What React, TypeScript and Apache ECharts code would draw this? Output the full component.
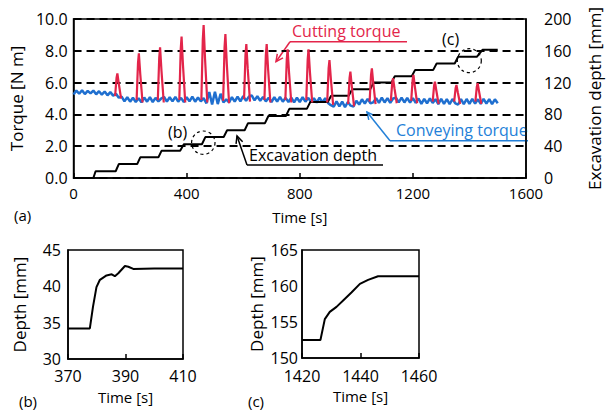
import React, { useEffect, useRef } from "react";
import * as echarts from "echarts";

const FONT = "Open Sans";

// Main panel (a)
const timeTicks = [0, 400, 800, 1200, 1600];
const conveyingStart = 0;
const conveyingStep = 10;
const conveyingTorque = [
  5.25, 5.50, 5.30, 5.52, 5.28, 5.48, 5.32, 5.50, 5.26, 5.46,
  5.24, 5.44, 5.20, 5.40, 5.18, 5.30, 5.05, 5.12, 4.82, 5.08,
  4.80, 5.05, 4.78, 5.02, 4.76, 5.06, 4.80, 5.08, 4.78, 5.04,
  4.82, 5.00, 5.10, 4.80, 5.08, 4.82, 5.10, 4.80, 5.04, 4.78,
  5.08, 4.82, 5.12, 4.80, 5.06, 4.82, 5.02, 4.70, 5.40, 4.62,
  5.42, 4.65, 5.30, 4.75, 4.95, 4.76, 5.08, 4.80, 5.12, 4.82,
  5.15, 4.85, 5.12, 5.20, 4.88, 5.14, 4.86, 5.10, 4.82, 5.05,
  4.78, 5.08, 4.80, 5.10, 4.80, 5.04, 4.78, 5.06, 4.76, 5.05,
  4.78, 5.08, 4.80, 5.04, 4.78, 5.02, 4.74, 5.05, 4.76, 5.02,
  4.72, 4.58, 4.48, 4.82, 4.50, 4.80, 4.46, 4.78, 4.55, 4.50,
  4.86, 4.62, 4.95, 4.68, 4.98, 4.70, 4.76, 5.02, 4.72, 5.05,
  4.75, 5.02, 4.72, 5.00, 5.05, 4.76, 5.06, 4.75, 5.04, 4.74,
  5.02, 4.72, 5.00, 4.66, 4.98, 4.70, 5.00, 4.72, 4.96, 4.64,
  4.98, 4.66, 4.96, 4.64, 4.97, 4.70, 4.62, 4.96, 4.64, 4.97,
  4.66, 4.98, 4.68, 4.95, 4.66, 4.98, 4.68, 4.96, 4.65, 4.95,
  4.70,
];

const cuttingPeaks = [
  [[147, 5.15], [152, 6.29], [155, 6.58], [160, 5.94], [168, 5.0]],
  [[223, 4.9], [228, 7.25], [231, 7.84], [236, 6.52], [244, 4.75]],
  [[298, 4.9], [303, 7.56], [306, 8.22], [311, 6.73], [319, 4.75]],
  [[374, 4.9], [379, 8.09], [382, 8.89], [387, 7.09], [395, 4.75]],
  [[452, 4.9], [457, 8.68], [460, 9.62], [465, 7.5], [473, 4.75]],
  [[529, 4.85], [534, 8.22], [537, 9.06], [542, 7.17], [550, 4.7]],
  [[603, 4.95], [608, 7.73], [611, 8.42], [616, 6.86], [624, 4.8]],
  [[675, 4.9], [680, 7.72], [683, 8.43], [688, 6.84], [696, 4.75]],
  [[749, 4.9], [754, 7.45], [757, 8.09], [762, 6.65], [770, 4.75]],
  [[823, 4.9], [828, 7.45], [831, 8.09], [836, 6.65], [844, 4.75]],
  [[897, 4.75], [902, 6.89], [905, 7.42], [910, 6.22], [918, 4.6]],
  [[971, 4.65], [976, 6.28], [979, 6.69], [984, 5.77], [992, 4.5]],
  [[1047, 4.8], [1052, 6.48], [1055, 6.9], [1060, 5.96], [1068, 4.65]],
  [[1122, 4.85], [1127, 5.99], [1130, 6.27], [1135, 5.63], [1143, 4.7]],
  [[1194, 4.85], [1199, 6.15], [1202, 6.48], [1207, 5.75], [1215, 4.7]],
  [[1270, 4.8], [1275, 5.81], [1278, 6.06], [1283, 5.49], [1291, 4.65]],
  [[1346, 4.8], [1351, 5.64], [1354, 5.85], [1359, 5.38], [1367, 4.65]],
  [[1421, 4.8], [1426, 5.73], [1429, 5.96], [1434, 5.44], [1442, 4.65]],
];

const depthStepStart = [70, 149, 225, 300, 377, 454, 531, 605, 677, 751, 825, 899, 973, 1049, 1124, 1196, 1272, 1348, 1426];
const depthStepEnd = [78, 160, 236, 311, 390, 466, 543, 617, 689, 763, 837, 911, 985, 1061, 1136, 1208, 1284, 1360, 1446];
const depthLevel = [8.5, 17.5, 26, 34.2, 42.5, 51.5, 60, 69, 78, 87, 95.5, 103.5, 111.5, 120, 128, 136, 144, 152.5, 161.3];
const depthEndTime = 1500;

// Panel (b)
const detailB = [
  [370, 34.2], [377.6, 34.2], [378.7, 37.2], [379.9, 39.9], [381.1, 40.9],
  [383.4, 41.5], [385.2, 41.65], [386.3, 41.4], [387.5, 41.8], [389.8, 42.8],
  [391, 42.7], [392.7, 42.4], [400, 42.45], [410, 42.45],
];
// Panel (c)
const detailC = [
  [1420, 152.5], [1426.3, 152.5], [1427.8, 155.4], [1429.5, 156.4], [1431.8, 157.1],
  [1434.6, 158.2], [1436.9, 159.1], [1439.8, 160.3], [1442.6, 160.85], [1446, 161.35],
  [1460, 161.35],
];

const RED = "#e3254a";
const BLUE = "#1f6fcf";
const BLUE_TEXT = "#2380d8";

export default function App() {
  const ref = useRef<HTMLDivElement>(null);
  useEffect(() => {
    if (!ref.current) return;
    const chart = echarts.init(ref.current, null, { renderer: "svg" });

    const conveyingData = conveyingTorque.map((v, i) => [conveyingStart + i * conveyingStep, v]);
    const cuttingData: any[] = [];
    cuttingPeaks.forEach((pk) => {
      pk.forEach((p) => cuttingData.push(p));
      cuttingData.push([pk[pk.length - 1][0] + 1, "-"]);
    });
    const depthData: any[] = [[0, 0]];
    let prev = 0;
    depthStepStart.forEach((s, i) => {
      depthData.push([s, prev]);
      depthData.push([depthStepEnd[i], depthLevel[i]]);
      prev = depthLevel[i];
    });
    depthData.push([depthEndTime, prev]);

    const axisLine = { show: true, lineStyle: { color: "#000", width: 1.5 } };
    const tickIn = { show: true, inside: true, length: 5, lineStyle: { color: "#000", width: 1.5 } };
    const plain = (v: number) => String(v);
    const lbl = (size: number, margin: number, extra: any = {}) => ({
      color: "#000", fontSize: size, fontFamily: FONT, margin, formatter: plain, ...extra,
    });
    const nameStyle = (size: number) => ({ color: "#000", fontSize: size, fontFamily: FONT, fontWeight: "normal" });

    const text = (t: string, x: number, y: number, fill: string, size = 16) => ({
      type: "text", x, y,
      style: { text: t, fill, fontSize: size, fontFamily: FONT, verticalAlign: "middle", align: "left" },
    });
    const line = (x1: number, y1: number, x2: number, y2: number, stroke: string, w = 1.5) => ({
      type: "line", shape: { x1, y1, x2, y2 }, style: { stroke, lineWidth: w },
    });
    const arrowHead = (tx: number, ty: number, fx: number, fy: number, stroke: string) => {
      const ang = Math.atan2(fy - ty, fx - tx);
      const L = 8, spread = 0.45;
      return {
        type: "polyline",
        shape: {
          points: [
            [tx + L * Math.cos(ang - spread), ty + L * Math.sin(ang - spread)],
            [tx, ty],
            [tx + L * Math.cos(ang + spread), ty + L * Math.sin(ang + spread)],
          ],
        },
        style: { stroke, lineWidth: 1.5, fill: "none" },
      };
    };

    chart.setOption({
      animation: false,
      textStyle: { fontFamily: FONT },
      grid: [
        { left: 66, top: 19, width: 475, height: 159, show: true, borderColor: "#000", borderWidth: 1.5, containLabel: false },
        { left: 68, top: 250, width: 115, height: 109, show: true, borderColor: "#000", borderWidth: 1.5, containLabel: false },
        { left: 302, top: 250, width: 117, height: 108, show: true, borderColor: "#000", borderWidth: 1.5, containLabel: false },
      ],
      xAxis: [
        {
          gridIndex: 0, type: "value", min: timeTicks[0], max: timeTicks[timeTicks.length - 1], interval: 400,
          axisLine, axisTick: tickIn, splitLine: { show: false },
          axisLabel: lbl(15, 7),
          name: "Time [s]", nameLocation: "middle", nameGap: 31, nameTextStyle: nameStyle(15),
        },
        {
          gridIndex: 1, type: "value", min: 370, max: 410, interval: 20,
          axisLine, axisTick: tickIn, splitLine: { show: false },
          axisLabel: lbl(16, 9, { lineHeight: 16 }),
          name: "Time [s]", nameLocation: "middle", nameGap: 30, nameTextStyle: nameStyle(15),
        },
        {
          gridIndex: 2, type: "value", min: 1420, max: 1460, interval: 20,
          axisLine, axisTick: tickIn, splitLine: { show: false },
          axisLabel: lbl(16, 10, { lineHeight: 16 }),
          name: "Time [s]", nameLocation: "middle", nameGap: 30, nameTextStyle: nameStyle(15),
        },
      ],
      yAxis: [
        {
          gridIndex: 0, type: "value", min: 0, max: 10, interval: 2, position: "left",
          axisLine, axisTick: { show: false },
          splitLine: { show: true, lineStyle: { color: "#000", width: 1.8, type: [8, 5] } },
          axisLabel: lbl(16, 6, { formatter: (v: number) => v.toFixed(1) }),
          name: "Torque [N m]", nameLocation: "middle", nameGap: 40, nameTextStyle: nameStyle(17),
        },
        {
          gridIndex: 0, type: "value", min: 0, max: 200, interval: 40, position: "right",
          axisLine, axisTick: { show: false }, splitLine: { show: false },
          axisLabel: lbl(16, 18),
          name: "Excavation depth [mm]", nameLocation: "middle", nameGap: 60, nameTextStyle: nameStyle(17),
        },
        {
          gridIndex: 1, type: "value", min: 30, max: 45, interval: 5,
          axisLine, axisTick: { show: false }, splitLine: { show: false },
          axisLabel: lbl(16, 7, { lineHeight: 14 }),
          name: "Depth [mm]", nameLocation: "middle", nameGap: 40, nameTextStyle: nameStyle(17),
        },
        {
          gridIndex: 2, type: "value", min: 150, max: 165, interval: 5,
          axisLine, axisTick: { show: false }, splitLine: { show: false },
          axisLabel: lbl(16, 4, { lineHeight: 14 }),
          name: "Depth [mm]", nameLocation: "middle", nameGap: 37, nameTextStyle: nameStyle(17),
        },
      ],
      series: [
        {
          type: "line", name: "Conveying torque", xAxisIndex: 0, yAxisIndex: 0, data: conveyingData,
          showSymbol: false, symbol: "none", silent: true, lineStyle: { color: BLUE, width: 2.5 }, z: 2,
        },
        {
          type: "line", name: "Excavation depth", xAxisIndex: 0, yAxisIndex: 1, data: depthData,
          showSymbol: false, symbol: "none", silent: true, lineStyle: { color: "#000", width: 2 }, z: 3,
        },
        {
          type: "line", name: "Cutting torque", xAxisIndex: 0, yAxisIndex: 0, data: cuttingData,
          connectNulls: false, showSymbol: false, symbol: "none", silent: true,
          lineStyle: { color: RED, width: 2.2 }, z: 4,
        },
        {
          type: "line", name: "Depth (b)", xAxisIndex: 1, yAxisIndex: 2, data: detailB,
          showSymbol: false, symbol: "none", silent: true, lineStyle: { color: "#000", width: 2 },
        },
        {
          type: "line", name: "Depth (c)", xAxisIndex: 2, yAxisIndex: 3, data: detailC,
          showSymbol: false, symbol: "none", silent: true, lineStyle: { color: "#000", width: 2 },
        },
      ],
      graphic: [
        text("Cutting torque", 292, 31, RED),
        line(290, 41.7, 407, 41.7, RED),
        line(290, 41.7, 276, 61.7, RED),
        arrowHead(276, 61.7, 290, 41.7, RED),
        text("Conveying torque", 396, 130, BLUE_TEXT),
        line(390, 140.7, 528, 140.7, BLUE_TEXT),
        line(390, 140.7, 367, 112, BLUE_TEXT),
        arrowHead(367, 112, 390, 140.7, BLUE_TEXT),
        text("Excavation depth", 249, 155, "#000"),
        line(247, 165, 383, 165, "#000"),
        line(247, 165, 237, 136, "#000"),
        arrowHead(237, 136, 247, 165, "#000"),
        text("(b)", 168, 132, "#000"),
        {
          type: "circle", shape: { cx: 203.3, cy: 142.7, r: 11.7 },
          style: { fill: "none", stroke: "#000", lineWidth: 1.2, lineDash: [3, 3] }, z: 10,
        },
        text("(c)", 442, 39, "#000"),
        {
          type: "circle", shape: { cx: 469.3, cy: 60.7, r: 12 },
          style: { fill: "none", stroke: "#000", lineWidth: 1.2, lineDash: [3, 3] }, z: 10,
        },
        text("(a)", 14, 215, "#000", 15),
        text("(b)", 19, 401, "#000", 15),
        text("(c)", 248, 401, "#000", 15),
      ],
    });
    return () => chart.dispose();
  }, []);
  return (
    <div
      ref={ref}
      style={{ position: "fixed", left: 0, top: 0, width: 611, height: 410, background: "#fff" }}
    />
  );
}
